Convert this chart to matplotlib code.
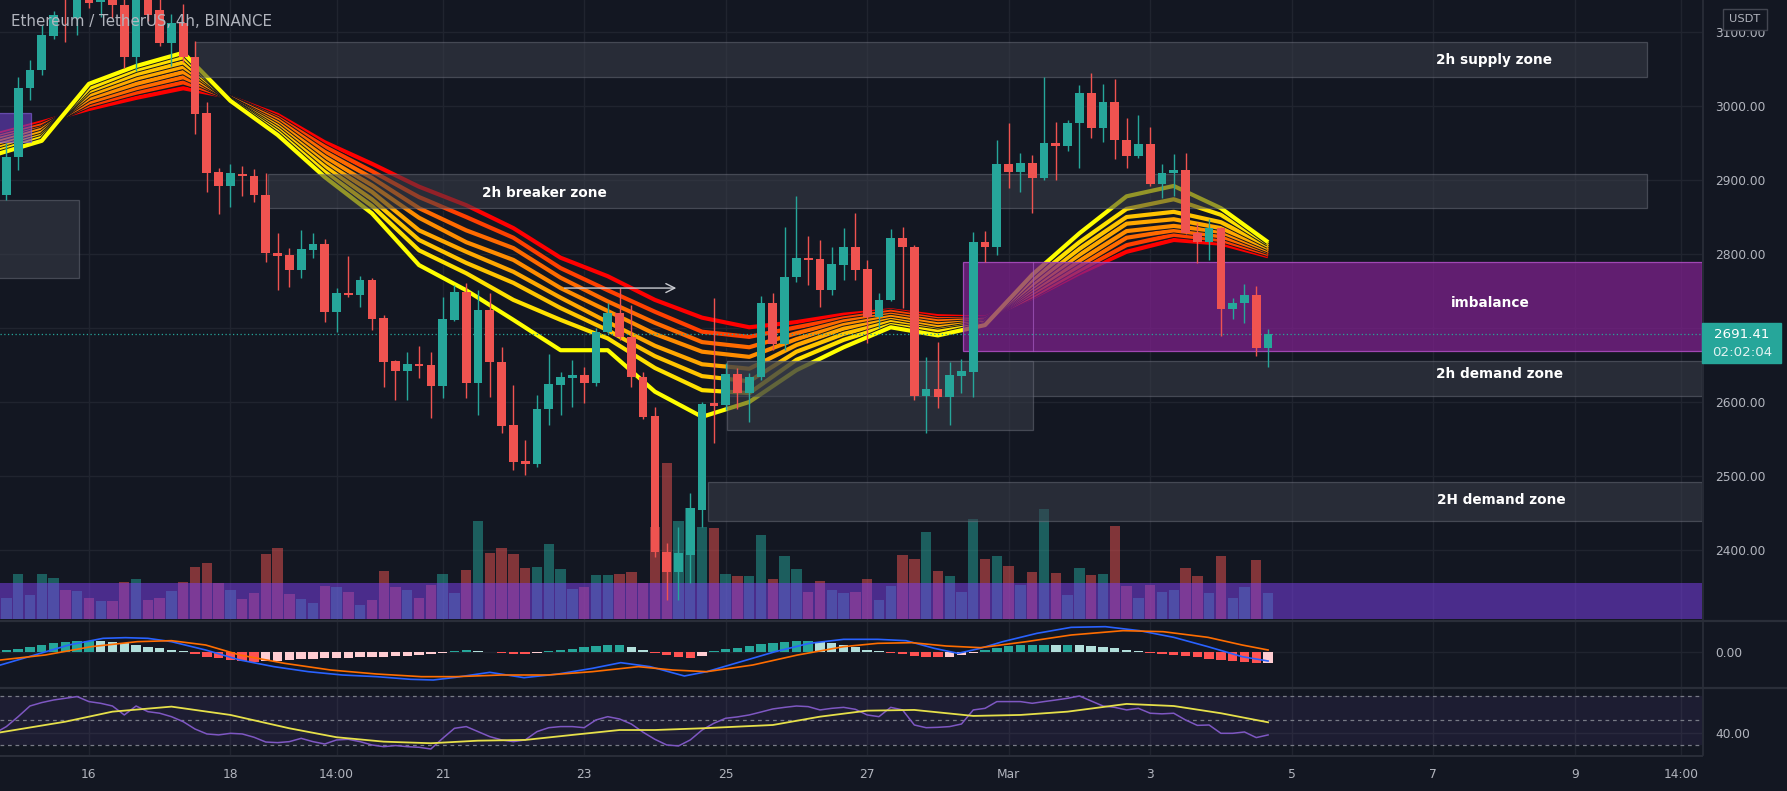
import numpy as np
import matplotlib
matplotlib.use("Agg")
import matplotlib.pyplot as plt
import matplotlib.patheffects as pe
from matplotlib.patches import Rectangle

BG = "#131722"
TEAL = "#26a69a"
RED = "#ef5350"
GRID = "#20242f"
TXT = "#b2b5be"

# ETHUSDT 4h candles, index 0 = Feb 16 00:00
opens = [2931, 2880, 2931, 3025, 3049, 3095, 3170, 3119,
         3165, 3141, 3160, 3136, 3066, 3150, 3130, 3085, 3112, 3066,
         2991, 2911, 2892, 2908, 2905, 2880, 2801, 2799, 2778, 2805,
         2813, 2722, 2747, 2745, 2765, 2713, 2655, 2642, 2652, 2650,
         2622, 2711, 2749, 2626, 2724, 2654, 2569, 2520, 2516, 2590,
         2623, 2632, 2636, 2626, 2695, 2720, 2688, 2634, 2581, 2397,
         2370, 2393, 2454, 2599, 2596, 2638, 2612, 2634, 2734, 2678,
         2769, 2795, 2793, 2751, 2785, 2809, 2780, 2715, 2738, 2822,
         2809, 2608, 2618, 2607, 2635, 2641, 2816, 2809, 2922, 2911,
         2923, 2903, 2950, 2946, 2977, 3018, 2970, 3005, 2954, 2932,
         2949, 2895, 2909, 2914, 2828, 2816, 2835, 2726, 2734, 2745,
         2673]
highs = [2940, 2950, 3039, 3062, 3109, 3128, 3180, 3175,
         3175, 3170, 3170, 3145, 3165, 3165, 3145, 3125, 3138, 3088,
         3005, 2916, 2922, 2919, 2915, 2909, 2828, 2808, 2832, 2828,
         2820, 2754, 2797, 2770, 2767, 2718, 2657, 2668, 2676, 2668,
         2742, 2758, 2761, 2751, 2747, 2674, 2623, 2549, 2609, 2665,
         2641, 2657, 2647, 2700, 2734, 2754, 2731, 2641, 2593, 2409,
         2431, 2477, 2600, 2740, 2653, 2646, 2639, 2743, 2747, 2836,
         2878, 2824, 2819, 2809, 2835, 2855, 2792, 2747, 2834, 2836,
         2812, 2661, 2681, 2654, 2658, 2830, 2831, 2954, 2977, 2936,
         2934, 3039, 2978, 2981, 3028, 3045, 3030, 3036, 2984, 2988,
         2972, 2922, 2935, 2936, 2842, 2847, 2836, 2741, 2759, 2757,
         2699]
lows = [2878, 2873, 2914, 3008, 3042, 3091, 3086, 3096,
        3133, 3121, 3119, 3051, 3047, 3115, 3081, 3054, 3060, 2962,
        2884, 2854, 2864, 2878, 2870, 2789, 2751, 2755, 2767, 2795,
        2708, 2695, 2742, 2728, 2697, 2620, 2603, 2603, 2632, 2578,
        2605, 2709, 2605, 2582, 2607, 2558, 2508, 2501, 2512, 2569,
        2582, 2593, 2599, 2622, 2693, 2684, 2620, 2577, 2391, 2332,
        2332, 2355, 2431, 2545, 2589, 2590, 2573, 2630, 2670, 2670,
        2762, 2758, 2728, 2745, 2765, 2765, 2680, 2700, 2736, 2727,
        2603, 2558, 2592, 2569, 2612, 2607, 2789, 2799, 2889, 2884,
        2855, 2900, 2900, 2939, 2916, 2957, 2951, 2928, 2916, 2930,
        2892, 2876, 2878, 2827, 2788, 2792, 2689, 2712, 2707, 2662,
        2647]
closes = [2882, 2931, 3025, 3049, 3096, 3123, 3150, 3160,
          3139, 3160, 3136, 3066, 3150, 3123, 3085, 3112, 3066, 2989,
          2909, 2892, 2909, 2905, 2880, 2801, 2797, 2778, 2807, 2813,
          2722, 2747, 2744, 2765, 2712, 2654, 2642, 2652, 2649, 2622,
          2712, 2749, 2626, 2724, 2654, 2568, 2519, 2516, 2590, 2624,
          2634, 2636, 2626, 2695, 2720, 2688, 2634, 2580, 2397, 2370,
          2396, 2457, 2597, 2595, 2638, 2612, 2634, 2734, 2678, 2769,
          2795, 2792, 2751, 2786, 2809, 2778, 2715, 2738, 2822, 2809,
          2608, 2618, 2607, 2636, 2642, 2816, 2809, 2922, 2911, 2923,
          2903, 2950, 2946, 2977, 3018, 2970, 3005, 2954, 2932, 2949,
          2895, 2909, 2914, 2828, 2816, 2835, 2726, 2734, 2745, 2673,
          2691.41]
volume = [44, 21, 45, 24, 45, 41, 29, 28,
          21, 18, 18, 37, 40, 19, 21, 28, 37, 52,
          56, 36, 29, 20, 26, 65, 71, 25, 20, 16,
          33, 32, 27, 14, 19, 48, 32, 29, 21, 34,
          45, 26, 49, 98, 66, 71, 65, 51, 52, 75,
          50, 30, 32, 44, 44, 45, 47, 36, 92, 156,
          98, 111, 92, 91, 45, 43, 43, 84, 40, 63,
          50, 27, 38, 29, 26, 27, 40, 19, 33, 64,
          60, 87, 48, 43, 27, 100, 60, 63, 53, 34,
          47, 110, 46, 24, 51, 44, 45, 93, 33, 21,
          34, 27, 29, 51, 43, 26, 63, 21, 32, 59,
          26]

# EMA ribbon, read every 4 bars (fast yellow -> slow red)
rib_x = [-8, -4, 0, 4, 8, 12, 16, 20, 24, 28, 32, 36, 40, 44, 48, 52, 56, 60, 64, 68, 72, 76, 80, 84, 88, 92, 96, 100]
rib1 = [2934, 2953, 3030, 3054, 3072, 3007, 2961, 2904, 2855, 2785, 2751, 2711, 2670, 2670, 2614, 2580, 2600, 2643, 2674, 2701, 2690, 2704, 2772, 2828, 2878, 2892, 2862, 2816]
rib2 = [2938, 2957, 3024, 3049, 3066, 3008, 2965, 2911, 2865, 2805, 2774, 2738, 2711, 2686, 2646, 2616, 2612, 2657, 2684, 2704, 2695, 2705, 2765, 2816, 2861, 2874, 2853, 2814]
rib3 = [2942, 2960, 3020, 3043, 3059, 3008, 2969, 2918, 2874, 2819, 2788, 2761, 2727, 2697, 2662, 2635, 2628, 2668, 2692, 2708, 2697, 2707, 2759, 2807, 2850, 2857, 2843, 2811]
rib4 = [2946, 2964, 3015, 3037, 3053, 3009, 2973, 2924, 2884, 2832, 2803, 2776, 2741, 2708, 2676, 2651, 2645, 2677, 2699, 2711, 2701, 2708, 2755, 2799, 2841, 2847, 2835, 2808]
rib5 = [2950, 2968, 3010, 3030, 3046, 3009, 2977, 2931, 2893, 2849, 2816, 2792, 2754, 2723, 2692, 2668, 2661, 2685, 2704, 2715, 2705, 2709, 2751, 2791, 2831, 2838, 2830, 2805]
rib6 = [2954, 2970, 3005, 3024, 3039, 3011, 2981, 2938, 2903, 2862, 2832, 2808, 2768, 2736, 2707, 2681, 2674, 2693, 2709, 2718, 2709, 2711, 2747, 2784, 2822, 2832, 2824, 2803]
rib7 = [2957, 2974, 3001, 3018, 3032, 3011, 2984, 2945, 2912, 2877, 2850, 2822, 2781, 2751, 2722, 2695, 2688, 2701, 2713, 2722, 2712, 2712, 2743, 2778, 2812, 2826, 2819, 2800]
rib8 = [2961, 2978, 2996, 3011, 3024, 3012, 2988, 2951, 2922, 2891, 2866, 2835, 2795, 2770, 2738, 2714, 2701, 2708, 2718, 2724, 2716, 2714, 2741, 2774, 2803, 2819, 2814, 2797]
rib_colors = ["#ffff00", "#ffe100", "#ffc400", "#ffa800", "#ff8c00", "#ff6a00", "#ff4000", "#ff0000"]

# MACD pane
hist = [5, 7, 11, 17, 23, 28, 31, 33,
        35, 34, 31, 27, 22, 17, 12, 7, 3, -6,
        -13, -18, -23, -26, -28, -27, -26, -24, -21, -19,
        -18, -17, -16, -15, -13, -13, -12, -10, -8, -5,
        -3, 5, 7, 5, 2, -1, -5, -6, -3, 4,
        7, 11, 15, 18, 21, 22, 17, 7, -3, -8,
        -15, -18, -11, 4, 9, 14, 19, 24, 28, 31,
        34, 35, 31, 27, 21, 15, 7, 3, -1, -6,
        -10, -13, -15, -13, -8, -1, 7, 14, 19, 22,
        23, 23, 22, 22, 21, 19, 16, 12, 7, 3,
        -3, -6, -8, -11, -15, -19, -23, -26, -30, -33,
        -31]
macd_x = [-7.5, -4.6, -1.7, 1.2, 3.1, 5.0, 7.0, 9.9, 12.8, 15.7, 18.6, 21.5, 24.4, 27.3, 29.2, 31.1, 34.0, 36.9, 39.8, 42.7, 45.1,
          47.6, 50.5, 52.4, 55.3, 58.2, 61.1, 64.0, 66.9, 69.3, 71.7, 73.7, 75.6, 77.5, 80.4, 83.3, 86.2, 89.1, 92.0, 94.9, 97.8, 100]
macd = [-38, -8, 22, 42, 44, 42, 32, 7, -23, -43, -58, -68, -73, -81, -83, -75, -60, -76, -65, -48, -31,
        -43, -71, -58, -28, 2, 27, 39, 39, 35, 12, -3, 12, 32, 57, 75, 77, 65, 45, 17, -13, -26]
sig_x = [-7.5, -3.7, 0.2, 4.1, 7.0, 9.9, 12.8, 16.6, 20.5, 24.4, 28.2, 31.1, 35.0, 38.9, 42.7, 46.6,
         49.5, 52.4, 56.3, 60.1, 64.0, 66.9, 69.8, 72.7, 75.6, 79.5, 83.3, 87.7, 91.1, 94.9, 97.8, 100]
signal = [-23, -8, 17, 32, 35, 22, -8, -33, -53, -65, -73, -73, -68, -68, -58, -43,
          -53, -58, -38, -8, 17, 27, 29, 19, 14, 32, 52, 65, 62, 45, 22, 7]

# RSI pane
rsi = [39.5, 45, 53.1, 61.8, 64.6, 66.7, 68.1, 69.5,
       65.4, 64, 61.8, 54.5, 61.8, 57.2, 55.9, 53.1, 49, 43,
       39, 38.2, 39.5, 39, 36.3, 32.4, 31.9, 32.7, 35.4, 32.7,
       30.8, 34.1, 34.6, 32.7, 30, 28.6, 29.5, 28.6, 28.1, 26.7,
       35.4, 43.6, 45, 40.9, 36.8, 34.1, 32.7, 34.1, 40.9, 44.1,
       45, 45, 44.1, 50.4, 53.1, 51.2, 47.1, 40.4, 34.6, 30,
       29.2, 34.1, 42.2, 47.7, 51.8, 52.9, 54.5, 56.9, 59.4, 60.7,
       61.8, 61.3, 58.6, 59.9, 60.7, 59.1, 54.5, 53.1, 60.7, 58.6,
       46.3, 44.1, 44.4, 45, 47.1, 58.6, 59.9, 65.4, 65.4, 65.4,
       64, 65.4, 66.7, 68.1, 70, 65.9, 61.8, 60.7, 58.6, 59.9,
       55.9, 55.4, 55.9, 50.4, 46, 46.3, 39.5, 39.5, 40.6, 36,
       38.2]
rsi_ma_x = [-8, -2, 2, 7, 12, 17, 21, 25, 29, 33, 37, 41, 45, 48, 52, 58, 62, 66, 70, 75, 79, 83, 88, 92, 96, 100]
rsi_ma = [39.5, 49, 57.2, 61.3, 54.5, 43.6, 36.3, 32.7, 31.4, 33.5, 34.1, 38.2, 42.2, 42.2, 43.6, 46.3,
          53.1, 58, 58.6, 53.7, 54.5, 57.2, 63.5, 61.8, 55.9, 48.5]

tick_pos = [0, 12, 21, 30, 42, 54, 66, 78, 90, 102, 114, 126, 135]
tick_lab = ["16", "18", "14:00", "21", "23", "25", "27", "Mar", "3", "5", "7", "9", "14:00"]
price_levels = [2400, 2500, 2600, 2700, 2800, 2900, 3000, 3100]

idx = np.arange(-8, 101)
o, h, l, c = (np.array(v, float) for v in (opens, highs, lows, closes))
up = c >= o
col = np.where(up, TEAL, RED)

W, H = 1787, 791
XMIN, XMAX = -7.54, 136.8
YMIN, YMAX = 2305.4, 3143.3
PPX = (YMAX - YMIN) / 620.0

plt.rcParams["font.family"] = ["DejaVu Sans"]
fig = plt.figure(figsize=(W / 100, H / 100), dpi=100, facecolor=BG)


def pane(y0, y1):
    a = fig.add_axes([0, 1 - y1 / H, 1702 / W, (y1 - y0) / H])
    a.set_facecolor(BG)
    a.set_xlim(XMIN, XMAX)
    for s in a.spines.values():
        s.set_visible(False)
    a.yaxis.tick_right()
    a.tick_params(length=0, colors=TXT, labelsize=8.8, pad=9.5)
    a.set_xticks(tick_pos)
    a.set_xticklabels([])
    for t in tick_pos:
        a.axvline(t, color=GRID, lw=1, zorder=0)
    return a


ax = pane(0, 620)
ax.set_ylim(YMIN, YMAX)
ax.set_yticks(price_levels)
ax.set_yticklabels([f"{v:.2f}" for v in price_levels])
for lv in price_levels:
    ax.axhline(lv, color=GRID, lw=1, zorder=0)

# volume + band
vcol = np.where(up, TEAL, RED)
vb = YMIN + PPX
ax.bar(idx, np.array(volume) * PPX, bottom=vb, width=0.88, color=vcol, alpha=0.5, lw=0, zorder=1)
ax.add_patch(Rectangle((XMIN, vb), XMAX - XMIN, 36 * PPX, facecolor="#793fe3", alpha=0.55, lw=0, zorder=1.5))

# ribbon
ribs = [rib1, rib2, rib3, rib4, rib5, rib6, rib7, rib8]
for line, cc in reversed(list(zip(ribs, rib_colors))):
    ax.plot(rib_x, line, color=cc, lw=3.0, solid_capstyle="butt", solid_joinstyle="round", zorder=2,
            path_effects=[pe.Stroke(linewidth=4.4, foreground=BG), pe.Normal()])

# zones
GREY = (58 / 255, 62 / 255, 74 / 255, 0.55)
EDGE = (0.47, 0.48, 0.53, 0.45)


def zone(x0, x1, p0, p1, fc=GREY, ec=EDGE):
    ax.add_patch(Rectangle((x0, p0), x1 - x0, p1 - p0, facecolor=fc, edgecolor=ec, lw=0.9, zorder=3))


zone(9.0, 132.1, 3039, 3086)
zone(15.2, 132.1, 2862, 2908)
zone(-7.7, -0.84, 2768, 2873)
zone(-7.7, -4.9, 2951, 2991, fc=(0.42, 0.25, 0.78, 0.6), ec=(0.55, 0.4, 0.9, 0.6))
zone(54.1, 136.8, 2608, 2655)
zone(54.1, 80.1, 2562, 2655)
zone(52.5, 136.8, 2439, 2492)
zone(74.1, 136.8, 2669, 2789, fc=(0.5, 0.13, 0.56, 0.72), ec=(0.67, 0.3, 0.75, 0.9))
ax.plot([80.1, 80.1], [2669, 2789], color="#a55bc0", lw=0.8, alpha=0.7, zorder=3.2)

lab = dict(ha="center", va="center", color="white", fontsize=9.8, fontweight="bold", zorder=8)
ax.text(119.2, 3062, "2h supply zone", **lab)
ax.text(38.6, 2882, "2h breaker zone", **lab)
ax.text(118.8, 2734, "imbalance", **lab)
ax.text(119.6, 2638, "2h demand zone", **lab)
ax.text(119.8, 2468, "2H demand zone", **lab)

# candles
ax.vlines(idx, l, h, colors=col, lw=1.0, zorder=5)
ax.bar(idx, np.maximum(np.abs(c - o), 1.3), bottom=np.minimum(o, c), width=0.74, color=col, lw=0, zorder=6)

ax.axhline(closes[-1], color=TEAL, lw=0.9, ls=(0, (1, 2)), zorder=4)
ax.annotate("", xy=(50.05, 2754), xytext=(40.1, 2754),
            arrowprops=dict(arrowstyle="->", color="#c8cad0", lw=1.0, mutation_scale=16), zorder=7)

# MACD
axm = pane(621, 687)
axm.set_ylim(-104, 94)
axm.set_yticks([0])
axm.set_yticklabels(["0.00"])
axm.axhline(0, color=GRID, lw=1, zorder=0)
hv = np.array(hist, float)
prev = np.concatenate([[hv[0]], hv[:-1]])
hcol = np.where(hv >= 0, np.where(hv >= prev, "#26a69a", "#b2dfdb"),
                np.where(hv < prev, "#ff5252", "#ffcdd2"))
axm.bar(idx, hv, width=0.8, color=hcol, lw=0, zorder=2)
axm.plot(macd_x, macd, color="#2962ff", lw=1.2, zorder=3)
axm.plot(sig_x, signal, color="#ff6d00", lw=1.2, zorder=3)

# RSI
axr = pane(688, 755)
axr.set_ylim(21.8, 76.5)
axr.set_yticks([40])
axr.set_yticklabels(["40.00"])
axr.axhline(40, color=GRID, lw=1, zorder=0)
axr.axhspan(30, 70, color="#7e57c2", alpha=0.1, lw=0, zorder=0.5)
for lv in (70, 50, 30):
    axr.axhline(lv, color="#787b86", lw=0.9, ls=(0, (3, 3)), zorder=1)
axr.plot(idx, rsi, color="#7e57c2", lw=1.1, zorder=3)
axr.plot(rsi_ma_x, rsi_ma, color="#e6e04a", lw=1.3, zorder=3)
axr.set_xticklabels(tick_lab)
axr.tick_params(axis="x", pad=9, labelsize=8.8, colors=TXT)

# overlay for chrome
ov = fig.add_axes([0, 0, 1, 1])
ov.set_xlim(0, W)
ov.set_ylim(H, 0)
ov.axis("off")
ov.patch.set_alpha(0)
for yy in (620.5, 687.5):
    ov.plot([0, W], [yy, yy], color="#2a2e39", lw=1.6)
ov.plot([0, 1702], [755.5, 755.5], color="#2a2e39", lw=1.4)
ov.plot([1702.5, 1702.5], [0, 755], color="#2a2e39", lw=1.2)
ov.add_patch(Rectangle((1702, 323), 79, 40, color=TEAL, zorder=5))
ov.text(1742, 334, "2691.41", color="white", fontsize=9.6, ha="center", va="center", zorder=6)
ov.text(1742, 352, "02:02:04", color="#e0f2f1", fontsize=9.6, ha="center", va="center", zorder=6)
ov.add_patch(Rectangle((1723, 9), 44, 21, facecolor=BG, edgecolor="#434651", lw=1, zorder=5))
ov.text(1745, 19.5, "USDT", color=TXT, fontsize=8.2, ha="center", va="center", zorder=6)
ov.text(11, 21, "Ethereum / TetherUS, 4h, BINANCE", color=TXT, fontsize=10.8, ha="left", va="center")

fig.savefig("out.png", dpi=100, facecolor=BG)
